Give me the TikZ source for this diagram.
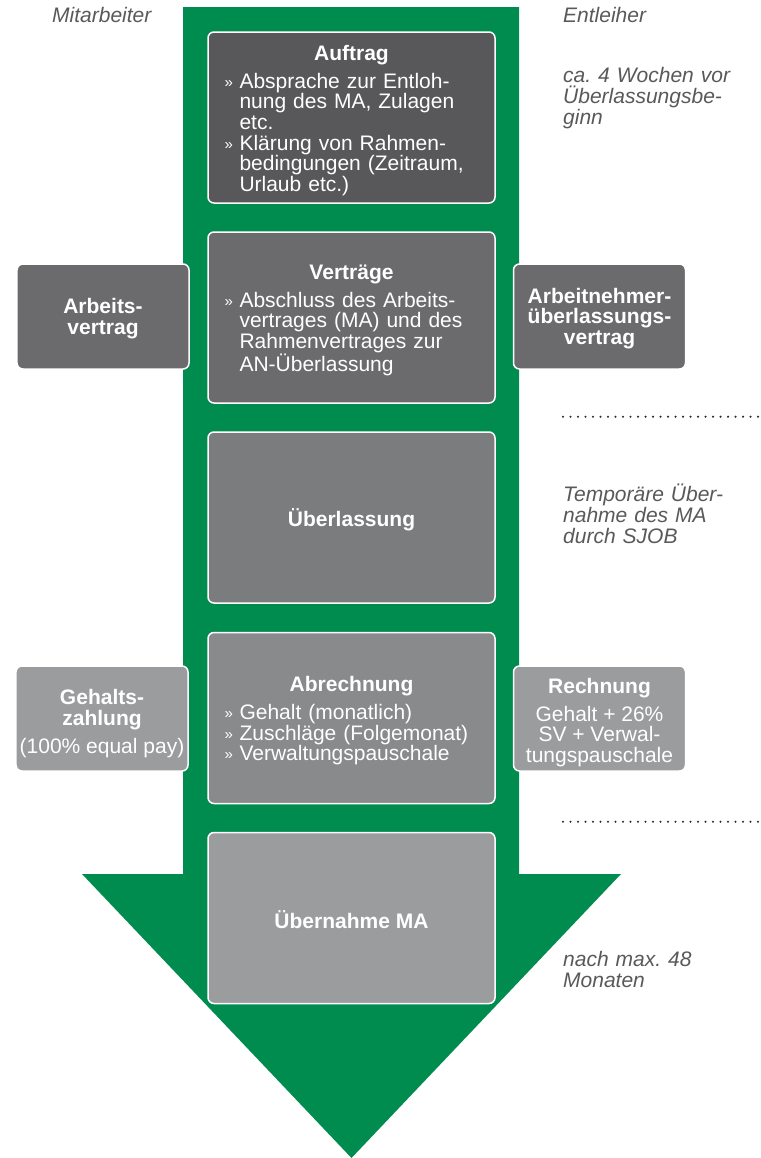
\documentclass[tikz,border=0pt]{standalone}
\usepackage{fontspec}
\setmainfont{Liberation Sans}
\frenchspacing
\definecolor{arrowgreen}{RGB}{0,140,78}
\definecolor{boxA}{RGB}{88,88,90}
\definecolor{boxB}{RGB}{107,107,109}
\definecolor{boxC}{RGB}{123,124,126}
\definecolor{boxD}{RGB}{137,138,140}
\definecolor{boxE}{RGB}{155,156,158}
\definecolor{notegray}{RGB}{89,89,91}
\definecolor{dotgray}{RGB}{40,40,42}
\newcommand{\bl}[1]{\par\noindent\hangindent=15bp\hangafter=1\makebox[15bp][l]{\raisebox{1bp}{\fontsize{15bp}{15bp}\selectfont »}}#1\par}
\newcommand{\boxtitle}[1]{{\centering\bfseries #1\par}\vspace{7bp}}
\begin{document}
\begin{tikzpicture}[x=1bp,y=-1bp,
  txt/.style={font=\fontsize{21bp}{20.7bp}\selectfont, text=white},
  mainbox/.style={draw=white, line width=1.5bp, rounded corners=6bp, minimum width=287bp, minimum height=171bp, inner sep=0pt},
  sidebox/.style={draw=white, line width=1.5bp, rounded corners=6bp, minimum width=172bp, minimum height=105bp, inner sep=0pt},
  boxtext/.style={txt, text width=254bp, align=left, inner sep=0pt, yshift=-3bp},
  sidetext/.style={txt, align=center, inner sep=0pt, yshift=-2bp},
  note/.style={font=\fontsize{21bp}{20.7bp}\selectfont\itshape, text=notegray, text width=190bp, align=left, inner sep=0pt, anchor=base west},
  dotline/.style={draw=dotgray, line width=2.4bp, dash pattern=on 0bp off 7.5bp, line cap=round}
]
\useasboundingbox (0,0) rectangle (761,1158);
% arrow
\fill[arrowgreen] (183,7) -- (519,7) -- (519,874) -- (621,874) -- (351.5,1158) -- (82,874) -- (183,874) -- cycle;

% main boxes
\node[mainbox, fill=boxA] (auftrag) at (351.5,117.5) {};
\node[mainbox, fill=boxB] (vertraege) at (351.5,317.5) {};
\node[mainbox, fill=boxC] (ueberlassung) at (351.5,517.5) {};
\node[mainbox, fill=boxD] (abrechnung) at (351.5,718) {};
\node[mainbox, fill=boxE] (uebernahme) at (351.5,918) {};

% side boxes
\node[sidebox, fill=boxB] (arbeitsvertrag) at (103,316.5) {};
\node[sidebox, fill=boxB] (anuevertrag) at (599.5,316.5) {};
\node[sidebox, fill=boxE] (gehalt) at (102,718.5) {};
\node[sidebox, fill=boxE] (rechnung) at (599.5,718.5) {};

% main box texts
\node[boxtext] (auftragtxt) at (auftrag.center) {\boxtitle{Auftrag}%
\bl{Absprache zur Entloh-\newline nung des MA, Zulagen\newline etc.}%
\bl{Klärung von Rahmen-\newline bedingungen (Zeitraum,\newline Urlaub etc.)}};
\node[boxtext] (vertraegetxt) at (vertraege.center) {\boxtitle{Verträge}%
\bl{Abschluss des Arbeits-\newline vertrages (MA) und des\newline Rahmenvertrages zur\newline AN-Überlassung}};
\node[sidetext, font=\fontsize{21bp}{20.7bp}\selectfont\bfseries] (ueberlassungtxt) at (ueberlassung.center) {Überlassung};
\node[boxtext] (abrechnungtxt) at (abrechnung.center) {\boxtitle{Abrechnung}%
\bl{Gehalt (monatlich)}%
\bl{Zuschläge (Folgemonat)}%
\bl{Verwaltungspauschale}};
\node[sidetext, font=\fontsize{21bp}{20.7bp}\selectfont\bfseries] (uebernahmetxt) at (uebernahme.center) {Übernahme MA};

% side box texts
\node[sidetext, font=\fontsize{21bp}{20.7bp}\selectfont\bfseries] (arbeitsvertragtxt) at (arbeitsvertrag.center) {Arbeits-\\vertrag};
\node[sidetext, font=\fontsize{21bp}{20.7bp}\selectfont\bfseries] (anuevertragtxt) at (anuevertrag.center) {Arbeitnehmer-\\überlassungs-\\vertrag};
\node[sidetext, yshift=-3bp] (gehalttxt) at (gehalt.center) {\textbf{Gehalts-}\\\textbf{zahlung}\\[7bp](100\% equal pay)};
\node[sidetext, yshift=-2bp] (rechnungtxt) at (rechnung.center) {\textbf{Rechnung}\\[7bp]Gehalt + 26\%\\SV + Verwal-\\tungspauschale};

% notes
\node[note, text width=120bp] (mitarbeiter) at (52,22.7) {Mitarbeiter};
\node[note] (entleiher) at (563,22.7) {Entleiher};
\node[note] (vorlauf) at (563,82.7) {ca. 4 Wochen vor\\Überlassungsbe-\\ginn};
\node[note] (temporaer) at (563,501.7) {Temporäre Über-\\nahme des MA\\durch SJOB};
\node[note] (nachmax) at (563,966.7) {nach max. 48\\Monaten};

% dotted separators
\coordinate (d1a) at (563,416.7);
\coordinate (d1b) at (761,416.7);
\coordinate (d2a) at (563,821.7);
\coordinate (d2b) at (761,821.7);
\draw[dotline] (d1a) -- (d1b);
\draw[dotline] (d2a) -- (d2b);
\end{tikzpicture}
\end{document}
